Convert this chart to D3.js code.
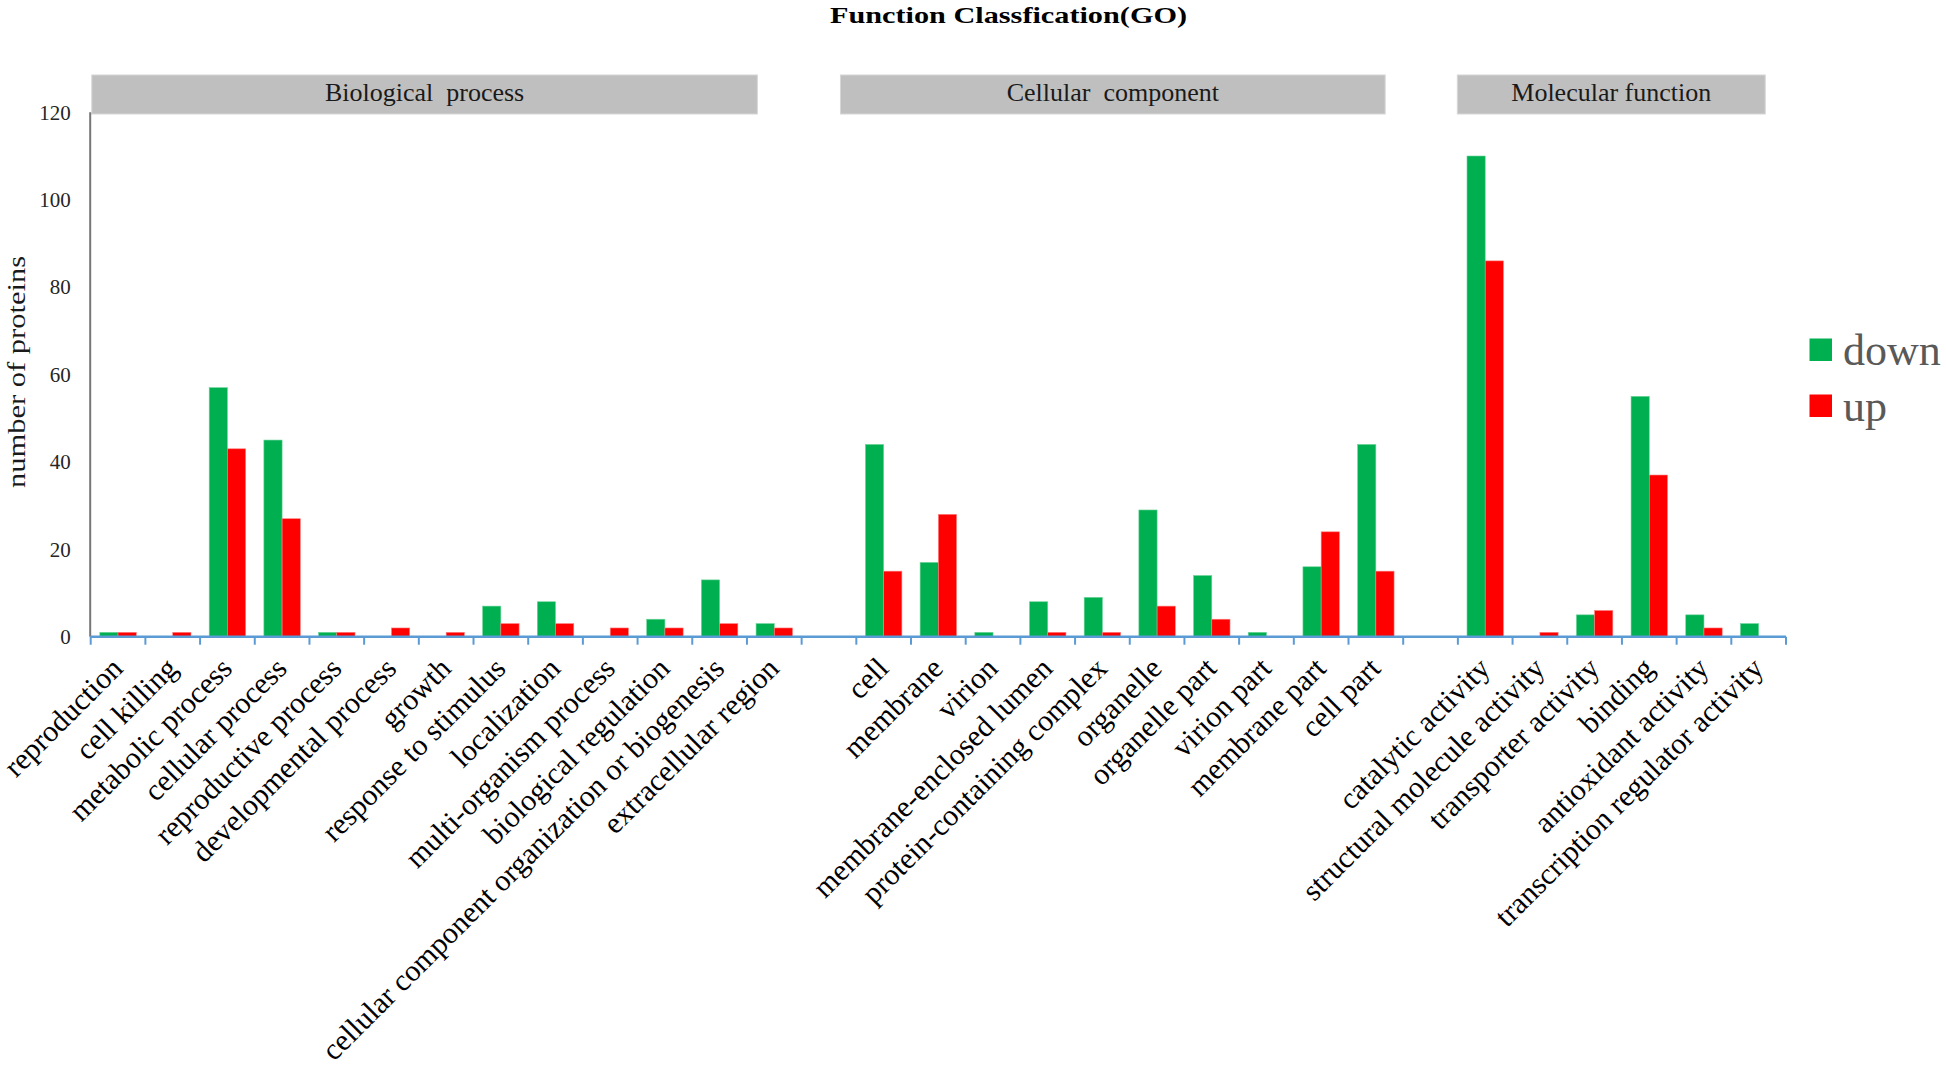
<!DOCTYPE html>
<html>
<head>
<meta charset="utf-8">
<script src="https://cdn.jsdelivr.net/npm/d3@7"></script>
<style>
  html, body { margin: 0; padding: 0; background: #ffffff; }
  svg { display: block; }
  text { font-family: "Liberation Serif", "Times New Roman", serif; }
</style>
</head>
<body>
<svg id="chart" width="1946" height="1069"></svg>
<script>
// ---------------- data ----------------
const categories = [
  "reproduction", "cell killing", "metabolic process", "cellular process",
  "reproductive process", "developmental process", "growth", "response to stimulus",
  "localization", "multi-organism process", "biological regulation",
  "cellular component organization or biogenesis", "extracellular region",
  "",
  "cell", "membrane", "virion", "membrane-enclosed lumen", "protein-containing complex",
  "organelle", "organelle part", "virion part", "membrane part", "cell part",
  "",
  "catalytic activity", "structural molecule activity", "transporter activity",
  "binding", "antioxidant activity", "transcription regulator activity"
];
const downValues = [1, 0, 57, 45, 1, 0, 0, 7, 8, 0, 4, 13, 3,
  null,
  44, 17, 1, 8, 9, 29, 14, 1, 16, 44,
  null,
  110, 0, 5, 55, 5, 3];
const upValues = [1, 1, 43, 27, 1, 2, 1, 3, 3, 2, 2, 3, 2,
  null,
  15, 28, 0, 1, 1, 7, 4, 0, 24, 15,
  null,
  86, 1, 6, 37, 2, 0];
const seriesNames = ["down", "up"];
const groupNames = ["Biological  process", "Cellular  component", "Molecular function"];
const yTicks = [0, 20, 40, 60, 80, 100, 120];
const titleText = "Function Classfication(GO)";
const yTitle = "number of proteins";

// ---------------- layout ----------------
const colors = { down: "#00B050", up: "#FF0000" };
const plotLeft = 90.7, plotRight = 1786, baseY = 636.7, topY = 112.3;
// header boxes given in slot units along the category axis
const groupSpans = [[0.02, 12.19], [13.71, 23.67], [24.99, 30.62]];

const svg = d3.select("#chart");

const idx = d3.range(categories.length);
const x0 = d3.scaleBand().domain(idx).range([plotLeft, plotRight]).paddingInner(0).paddingOuter(0);
const x1 = d3.scaleBand().domain(seriesNames).range([0, x0.bandwidth()]).paddingInner(0).paddingOuter(0.5);
const y = d3.scaleLinear().domain([0, 120]).range([baseY, topY]);
const slotX = s => plotLeft + s * x0.step();

// title
svg.append("text")
  .attr("x", 1008.5).attr("y", 22.5)
  .attr("text-anchor", "middle")
  .attr("font-size", 24).attr("font-weight", "bold")
  .attr("textLength", 357).attr("lengthAdjust", "spacingAndGlyphs")
  .attr("fill", "#000")
  .text(titleText);

// group header boxes
groupNames.forEach((g, i) => {
  const [a, b] = groupSpans[i];
  const xa = slotX(a), xb = slotX(b);
  svg.append("rect")
    .attr("x", xa).attr("y", 75).attr("width", xb - xa).attr("height", 39)
    .attr("fill", "#BFBFBF").attr("stroke", "#d6d6d6").attr("stroke-width", 1);
  svg.append("text")
    .attr("x", (xa + xb) / 2).attr("y", 100.5)
    .attr("text-anchor", "middle")
    .attr("font-size", 26).attr("fill", "#1a1a1a")
    .style("white-space", "pre")
    .text(g);
});

// y axis line
svg.append("line")
  .attr("x1", plotLeft - 0.5).attr("x2", plotLeft - 0.5)
  .attr("y1", y(120)).attr("y2", baseY)
  .attr("stroke", "#767676").attr("stroke-width", 2);

// y tick labels
svg.append("g").selectAll("text").data(yTicks).join("text")
  .attr("x", 70.7).attr("y", d => y(d))
  .attr("dy", "0.35em")
  .attr("text-anchor", "end")
  .attr("font-size", 21).attr("fill", "#262626")
  .text(d => d);

// y axis title
svg.append("text")
  .attr("transform", `translate(24.5,372) rotate(-90)`)
  .attr("text-anchor", "middle")
  .attr("font-size", 26).attr("fill", "#1a1a1a")
  .attr("textLength", 232).attr("lengthAdjust", "spacingAndGlyphs")
  .text(yTitle);

// bars
const barsG = svg.append("g");
seriesNames.forEach(s => {
  const vals = s === "down" ? downValues : upValues;
  barsG.append("g").selectAll("rect")
    .data(idx.filter(i => vals[i] !== null && vals[i] > 0))
    .join("rect")
    .attr("x", i => x0(i) + x1(s))
    .attr("y", i => y(vals[i]))
    .attr("width", x1.bandwidth())
    .attr("height", i => baseY - y(vals[i]))
    .attr("fill", colors[s])
    .attr("stroke", s === "down" ? "#6fd49a" : "#ff8080")
    .attr("stroke-width", 0.6);
});

// x axis line + ticks
const axisColor = "#5B9BD5";
svg.append("line")
  .attr("x1", plotLeft).attr("x2", plotRight)
  .attr("y1", baseY).attr("y2", baseY)
  .attr("stroke", axisColor).attr("stroke-width", 2.5);
svg.append("g").selectAll("line").data(d3.range(categories.length + 1)).join("line")
  .attr("x1", i => slotX(i)).attr("x2", i => slotX(i))
  .attr("y1", baseY).attr("y2", baseY + 8)
  .attr("stroke", axisColor).attr("stroke-width", 2);

// x category labels, rotated
svg.append("g").selectAll("text").data(idx.filter(i => categories[i] !== "")).join("text")
  .attr("transform", i => `translate(${x0(i) + x0.bandwidth() / 2 - 1},${baseY + 26}) rotate(-45)`)
  .attr("text-anchor", "end")
  .attr("dy", "0.35em")
  .attr("font-size", 30).attr("fill", "#000")
  .text(i => categories[i]);

// legend
const legend = svg.append("g");
seriesNames.forEach((s, i) => {
  const ly = 338.5 + i * 56;
  legend.append("rect")
    .attr("x", 1809.5).attr("y", ly).attr("width", 22.5).attr("height", 22.5)
    .attr("fill", colors[s]);
  legend.append("text")
    .attr("x", 1843).attr("y", ly + 26)
    .attr("font-size", 44).attr("fill", "#595959")
    .text(s);
});
</script>
</body>
</html>
